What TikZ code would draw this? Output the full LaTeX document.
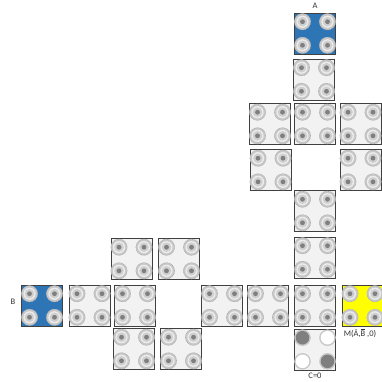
\documentclass[tikz,border=0pt]{standalone}
\usepackage{fontspec}
\setmainfont{Carlito}
\usepackage{tikz}
\usetikzlibrary{calc}
\definecolor{tileblue}{RGB}{46,117,182}
\definecolor{tilegray}{RGB}{242,242,242}
\definecolor{tileyellow}{RGB}{255,255,0}
\definecolor{studring}{RGB}{200,200,200}
\definecolor{studface}{RGB}{207,207,207}
\definecolor{studdot}{RGB}{127,127,127}
\newcommand\barB{\ensuremath{\overline{\mbox{B}}}}
\tikzset{
  tile/.style={rectangle,draw=black!75,line width=0.9pt,fill=tilegray,minimum size=41pt,inner sep=0pt},
  tag/.style={font=\fontsize{8.5}{10}\selectfont,text=black!80,inner sep=1pt},
  stud/.pic={
    \fill[studring] (0,0) circle (8.3pt);
    \draw[studring!85!black,line width=0.5pt,dash pattern=on 0.7pt off 0.7pt] (0,0) circle (8.1pt);
    \fill[white!93!black] (0,0) circle (6.1pt);
    \fill[studface] (0,0) circle (4.8pt);
    \fill[studdot] (0,0) circle (2.4pt);
  },
  fullstud/.pic={
    \fill[studring] (0,0) circle (8.3pt);
    \fill[studdot] (0,0) circle (6.8pt);
  },
  emptystud/.pic={
    \fill[studring] (0,0) circle (8.3pt);
    \fill[white] (0,0) circle (6.8pt);
  }
}
\newcommand\tilestuds[1]{%
  \foreach \sx/\sy in {-1/-1,1/-1,-1/1,1/1}
    \pic at ($(#1)+(12.5*\sx,11.8*\sy)$) {stud};}

\begin{document}
\begin{tikzpicture}[x=1pt,y=-1pt]
  \useasboundingbox (0,0) rectangle (382,381);

  % column under A
  \node[tile,fill=tileblue] (tA) at (315,33.5) {};
  \node[tile] (t1) at (314,79.5) {};
  \node[tile] (t2) at (270,124) {};
  \node[tile] (t3) at (315,124) {};
  \node[tile] (t4) at (360.5,124) {};
  \node[tile] (t5) at (270.5,170) {};
  \node[tile] (t6) at (360.5,170) {};
  \node[tile] (t7) at (315,211) {};
  \node[tile] (t8) at (315,257.5) {};

  % row with B and M
  \node[tile,fill=tileblue] (tB) at (42,305.5) {};
  \node[tile] (t9) at (89.5,305.5) {};
  \node[tile] (t10) at (135,305.5) {};
  \node[tile] (t11) at (222,305.5) {};
  \node[tile] (t12) at (268,305.5) {};
  \node[tile] (t13) at (315,305.5) {};
  \node[tile,fill=tileyellow] (tM) at (362.5,305.5) {};

  % left block
  \node[tile] (t14) at (131.5,259) {};
  \node[tile] (t15) at (179,259) {};
  \node[tile] (t16) at (134,349) {};
  \node[tile] (t17) at (181,349) {};
  \node[tile] (tC) at (315,349.5) {};

  \foreach \t in {tA,t1,t2,t3,t4,t5,t6,t7,t8,tB,t9,t10,t11,t12,t13,tM,t14,t15,t16,t17}
    \tilestuds{\t};

  \pic at ($(tC)+(-12.5,-11.8)$) {fullstud};
  \pic at ($(tC)+(12.5,-11.8)$) {emptystud};
  \pic at ($(tC)+(-12.5,11.8)$) {emptystud};
  \pic at ($(tC)+(12.5,11.8)$) {fullstud};

  \node[tag] (lA) at (315,6) {A};
  \node[tag] (lB) at (13,302) {B};
  \node[tag] (lM) at (360,333) {M(\=A,\barB\ ,0)};
  \node[tag] (lC) at (315,376) {C=0};
\end{tikzpicture}
\end{document}
